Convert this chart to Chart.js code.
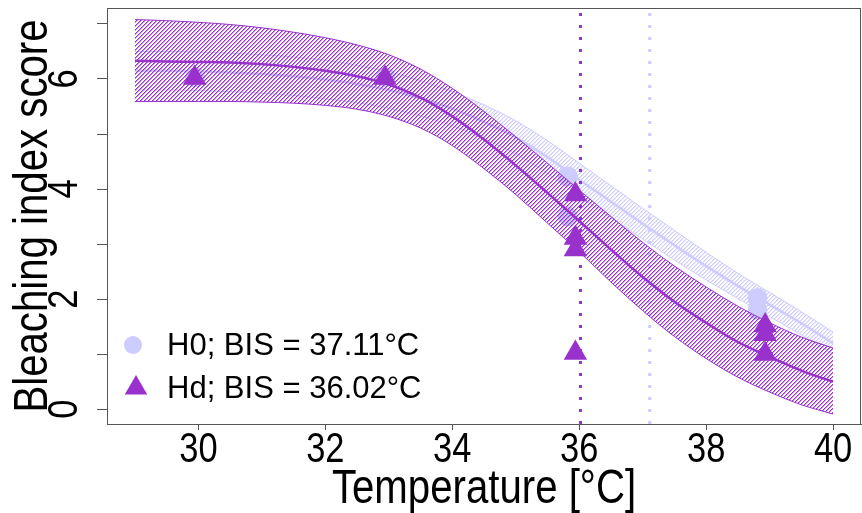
<!DOCTYPE html>
<html>
<head>
<meta charset="utf-8">
<script src="https://cdn.jsdelivr.net/npm/chart.js@4.4.1/dist/chart.umd.min.js"></script>
<style>
  html, body { margin: 0; padding: 0; background: #ffffff; }
  #wrap { width: 862px; height: 513px; position: relative; }
</style>
</head>
<body>
<div id="wrap"><canvas id="c" width="862" height="513"></canvas></div>
<script>
// ---- data ----
const curveTemps = [29, 29.5, 30, 30.5, 31, 31.5, 32, 32.5, 33, 33.5, 34, 34.5, 35, 35.5, 36, 36.5, 37, 37.5, 38, 38.5, 39, 39.5, 40];

const h0Fit   = [6.15, 6.15, 6.14, 6.12, 6.09, 6.05, 5.99, 5.91, 5.80, 5.65, 5.46, 5.22, 4.94, 4.58, 4.17, 3.77, 3.37, 2.98, 2.60, 2.24, 1.90, 1.56, 1.20];
const h0Upper = [6.50, 6.50, 6.49, 6.47, 6.44, 6.40, 6.34, 6.25, 6.13, 5.97, 5.77, 5.53, 5.24, 4.88, 4.47, 4.06, 3.65, 3.25, 2.85, 2.47, 2.12, 1.77, 1.40];
const h0Lower = [5.80, 5.80, 5.79, 5.77, 5.74, 5.70, 5.64, 5.57, 5.47, 5.33, 5.15, 4.91, 4.64, 4.28, 3.87, 3.48, 3.09, 2.71, 2.35, 2.01, 1.68, 1.35, 1.00];

const hdFit   = [6.33, 6.32, 6.31, 6.30, 6.27, 6.22, 6.15, 6.05, 5.90, 5.66, 5.32, 4.90, 4.43, 3.93, 3.42, 2.90, 2.40, 1.95, 1.57, 1.22, 0.95, 0.70, 0.50];
const hdUpper = [7.08, 7.06, 7.03, 6.99, 6.93, 6.85, 6.75, 6.62, 6.44, 6.18, 5.83, 5.41, 4.95, 4.47, 3.98, 3.50, 3.03, 2.60, 2.22, 1.87, 1.57, 1.31, 1.11];
const hdLower = [5.59, 5.59, 5.59, 5.59, 5.58, 5.56, 5.52, 5.45, 5.32, 5.11, 4.79, 4.37, 3.90, 3.38, 2.86, 2.31, 1.79, 1.32, 0.92, 0.58, 0.31, 0.08, -0.09];

const h0PointTemps  = [29.95, 32.95, 35.82, 35.82, 38.81, 38.81];
const h0PointScores = [6.03, 6.03, 4.23, 3.50, 2.02, 1.80];

const hdPointTemps  = [29.94, 32.94, 35.94, 35.94, 35.94, 35.94, 38.93, 38.93, 38.93];
const hdPointScores = [6.02, 6.02, 3.90, 3.11, 2.90, 1.02, 1.52, 1.36, 1.00];

const bisValues  = [37.11, 36.02];
const seriesNames = ['H0', 'Hd'];
const legendLabels = ['H0; BIS = 37.11°C', 'Hd; BIS = 36.02°C'];

const xTickValues = [30, 32, 34, 36, 38, 40];
const yTickValues = [0, 1, 2, 3, 4, 5, 6, 7];
const yTickLabelled = [0, 2, 4, 6];

const xTitle = 'Temperature [°C]';
const yTitle = 'Bleaching index score';

// ---- styling ----
const H0_COL = '#CCCCFF';
const HD_COL = '#9932CC';
const AXIS_COL = '#555555';
const REGULAR = "'Liberation Sans', Arial, sans-serif";
const NARROW_K = 0.82;   // horizontal squeeze of axis text (narrow face in the reference)

function hatch(color, period) {
  const size = period * 4;
  const cv = document.createElement('canvas');
  cv.width = size; cv.height = size;
  const g = cv.getContext('2d');
  for (let i = 0; i < size; i++) {
    for (let j = 0; j < size; j++) {
      const k = (i + j) % period;
      if (k === 0) { g.globalAlpha = 1; g.fillStyle = color; g.fillRect(i, j, 1, 1); }
      else if (k === 1) { g.globalAlpha = 0.5; g.fillStyle = color; g.fillRect(i, j, 1, 1); }
    }
  }
  return g.createPattern(cv, 'repeat');
}

const toXY = (xs, ys) => xs.map((x, i) => ({ x: x, y: ys[i] }));

const X_MIN = 28.56, X_MAX = 40.44, Y_MIN = -0.27, Y_MAX = 7.29;

const vline = (x, color, order) => ({
  type: 'line',
  data: [{ x: x, y: Y_MIN }, { x: x, y: Y_MAX }],
  borderColor: color,
  borderWidth: 3,
  borderDash: [3, 9],
  pointRadius: 0,
  fill: false,
  order: order
});

const zeroPad = (s) => { s.paddingLeft = 0; s.paddingRight = 0; s.paddingTop = 0; s.paddingBottom = 0; };

const boxPlugin = {
  id: 'box',
  afterDraw(chart) {
    const { ctx, chartArea: a } = chart;
    ctx.save();
    ctx.strokeStyle = AXIS_COL;
    ctx.lineWidth = 1;
    ctx.strokeRect(Math.round(a.left) + 0.5, Math.round(a.top) + 0.5, Math.round(a.right - a.left) - 1, Math.round(a.bottom - a.top));
    ctx.restore();
  }
};

const axisTextPlugin = {
  id: 'axisText',
  afterDraw(chart) {
    const { ctx, chartArea: a } = chart;
    const xs = chart.scales.x, ys = chart.scales.y;
    ctx.save();
    ctx.fillStyle = '#000000';
    ctx.textAlign = 'center';
    ctx.textBaseline = 'alphabetic';
    ctx.font = '42px ' + REGULAR;
    xTickValues.forEach(v => {
      ctx.save();
      ctx.translate(xs.getPixelForValue(v), 462);
      ctx.scale(NARROW_K, 1);
      ctx.fillText(String(v), 0, 0);
      ctx.restore();
    });
    yTickLabelled.forEach(v => {
      ctx.save();
      ctx.translate(77, ys.getPixelForValue(v));
      ctx.rotate(-Math.PI / 2);
      ctx.scale(NARROW_K, 1);
      ctx.fillText(String(v), 0, 0);
      ctx.restore();
    });
    ctx.font = '49px ' + REGULAR;
    ctx.save();
    ctx.translate((a.left + a.right) / 2, 503);
    ctx.scale(NARROW_K, 1);
    ctx.fillText(xTitle, 0, 0);
    ctx.restore();
    ctx.save();
    ctx.translate(47, (a.top + a.bottom) / 2);
    ctx.rotate(-Math.PI / 2);
    ctx.scale(NARROW_K, 1);
    ctx.fillText(yTitle, 0, 0);
    ctx.restore();
    ctx.restore();
  }
};

const legendPlugin = {
  id: 'rlegend',
  afterDatasetsDraw(chart) {
    const { ctx } = chart;
    ctx.save();
    ctx.font = '31px ' + REGULAR;
    ctx.textBaseline = 'middle';
    const rows = [345, 388];
    ctx.fillStyle = H0_COL;
    ctx.beginPath(); ctx.arc(133, rows[0], 9, 0, Math.PI * 2); ctx.fill();
    ctx.fillStyle = HD_COL;
    const r = 13;
    ctx.beginPath();
    ctx.moveTo(136, rows[1] - r);
    ctx.lineTo(136 + r * Math.sin(Math.PI * 2 / 3), rows[1] + r / 2);
    ctx.lineTo(136 - r * Math.sin(Math.PI * 2 / 3), rows[1] + r / 2);
    ctx.closePath(); ctx.fill();
    ctx.fillStyle = '#000000';
    legendLabels.forEach((t, i) => ctx.fillText(t, 167, rows[i] + 1));
    ctx.restore();
  }
};

new Chart(document.getElementById('c'), {
  type: 'line',
  data: {
    datasets: [
      { type: 'line', label: 'H0 upper', data: toXY(curveTemps, h0Upper), borderColor: H0_COL, borderWidth: 1, pointRadius: 0,
        backgroundColor: hatch(H0_COL, 4), fill: '+1', cubicInterpolationMode: 'monotone', order: 10 },
      { type: 'line', label: 'H0 lower', data: toXY(curveTemps, h0Lower), borderColor: H0_COL, borderWidth: 1, pointRadius: 0,
        fill: false, cubicInterpolationMode: 'monotone', order: 10 },
      { type: 'line', label: 'H0 fit', data: toXY(curveTemps, h0Fit), borderColor: H0_COL, borderWidth: 2.5, pointRadius: 0,
        fill: false, cubicInterpolationMode: 'monotone', order: 9 },
      { type: 'scatter', label: seriesNames[0], data: toXY(h0PointTemps, h0PointScores), backgroundColor: H0_COL, borderWidth: 0,
        pointStyle: 'circle', pointRadius: 10, order: 8 },
      vline(bisValues[0], H0_COL, 7),
      { type: 'line', label: 'Hd upper', data: toXY(curveTemps, hdUpper), borderColor: HD_COL, borderWidth: 1, pointRadius: 0,
        backgroundColor: hatch(HD_COL, 4), fill: '+1', cubicInterpolationMode: 'monotone', order: 6 },
      { type: 'line', label: 'Hd lower', data: toXY(curveTemps, hdLower), borderColor: HD_COL, borderWidth: 1, pointRadius: 0,
        fill: false, cubicInterpolationMode: 'monotone', order: 6 },
      { type: 'line', label: 'Hd fit', data: toXY(curveTemps, hdFit), borderColor: HD_COL, borderWidth: 2.5, pointRadius: 0,
        fill: false, cubicInterpolationMode: 'monotone', order: 5 },
      { type: 'scatter', label: seriesNames[1], data: toXY(hdPointTemps, hdPointScores), backgroundColor: HD_COL, borderWidth: 0,
        pointStyle: 'triangle', pointRadius: 13.5, order: 4 },
      vline(bisValues[1], HD_COL, 3)
    ]
  },
  options: {
    responsive: false,
    animation: false,
    events: [],
    layout: { autoPadding: false, padding: { top: 8, right: 1, left: 0, bottom: 0 } },
    plugins: { legend: { display: false }, tooltip: { enabled: false } },
    scales: {
      x: {
        type: 'linear', min: X_MIN, max: X_MAX,
        afterBuildTicks: (s) => { s.ticks = xTickValues.map(v => ({ value: v })); },
        afterFit: (s) => { s.height = 89; zeroPad(s); },
        grid: { display: true, drawOnChartArea: false, drawTicks: true, tickLength: 6, color: AXIS_COL, tickColor: AXIS_COL },
        border: { display: true, color: AXIS_COL, width: 1 },
        ticks: { display: false },
        title: { display: false, text: xTitle }
      },
      y: {
        type: 'linear', min: Y_MIN, max: Y_MAX,
        afterBuildTicks: (s) => { s.ticks = yTickValues.map(v => ({ value: v })); },
        afterFit: (s) => { s.width = 107; zeroPad(s); },
        grid: { display: true, drawOnChartArea: false, drawTicks: true, tickLength: 10, color: AXIS_COL, tickColor: AXIS_COL },
        border: { display: true, color: AXIS_COL, width: 1 },
        ticks: { display: false },
        title: { display: false, text: yTitle }
      }
    }
  },
  plugins: [boxPlugin, axisTextPlugin, legendPlugin]
});
</script>
</body>
</html>
